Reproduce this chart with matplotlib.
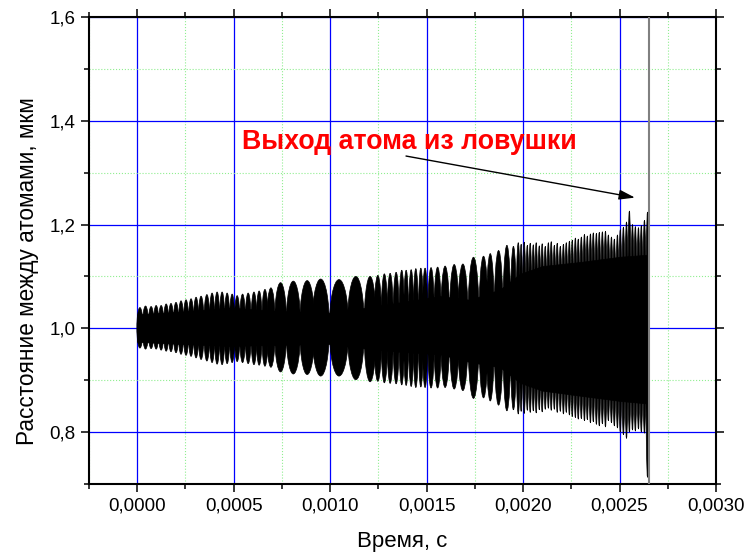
import numpy as np
import matplotlib
matplotlib.use('Agg')
import matplotlib.pyplot as plt
from matplotlib.patches import Ellipse
from matplotlib.collections import PatchCollection
from matplotlib.ticker import MultipleLocator, FuncFormatter

plt.rcParams['font.family'] = ['Liberation Sans', 'DejaVu Sans']

# ------------------------------------------------------------
# Data (time in microseconds, distance in um)
# each "lobe" is one beat lobe / spike of the dense oscillation
# ------------------------------------------------------------
lobe_t_us = [14, 43, 72, 98, 124, 150, 175, 201, 227, 253,
             279, 305, 331, 361, 388, 414, 440, 466, 492, 518,
             546, 575, 605, 632, 662, 693, 743, 809, 881, 951,
             1046, 1133, 1207, 1247, 1281, 1311, 1342, 1371, 1394, 1420,
             1444, 1470, 1492, 1523, 1557, 1596, 1643, 1688, 1743, 1795,
             1830, 1873, 1916, 1950, 1975,
             1990, 2006, 2022, 2037, 2053, 2068, 2084, 2099, 2115, 2131,
             2146, 2162, 2177, 2193, 2209, 2224, 2240, 2255, 2271, 2286,
             2302, 2318, 2333, 2349, 2364, 2380, 2395, 2411, 2427, 2442,
             2458, 2473, 2489, 2504, 2520, 2536, 2551, 2567, 2582, 2598,
             2613, 2629, 2645]

lobe_hi = [1.040, 1.043, 1.042, 1.044, 1.044, 1.047, 1.048, 1.050, 1.053, 1.055,
           1.057, 1.060, 1.062, 1.065, 1.068, 1.070, 1.070, 1.068, 1.066, 1.063,
           1.066, 1.068, 1.070, 1.072, 1.075, 1.078, 1.088, 1.091, 1.092, 1.095,
           1.094, 1.100, 1.100, 1.102, 1.105, 1.106, 1.108, 1.112, 1.112, 1.113,
           1.115, 1.116, 1.116, 1.117, 1.118, 1.120, 1.123, 1.124, 1.137, 1.139,
           1.144, 1.150, 1.160, 1.158, 1.165,
           1.162, 1.166, 1.160, 1.164, 1.161, 1.165, 1.159, 1.163, 1.158, 1.165,
           1.167, 1.160, 1.164, 1.158, 1.162, 1.165, 1.168, 1.170, 1.174, 1.172,
           1.176, 1.181, 1.178, 1.182, 1.184, 1.183, 1.185, 1.186, 1.187, 1.180,
           1.176, 1.172, 1.180, 1.190, 1.195, 1.205, 1.226, 1.200, 1.196, 1.194,
           1.198, 1.208, 1.224]

lobe_lo = [0.962, 0.960, 0.961, 0.960, 0.958, 0.956, 0.955, 0.953, 0.950, 0.948,
           0.946, 0.943, 0.940, 0.937, 0.934, 0.931, 0.930, 0.932, 0.934, 0.936,
           0.934, 0.932, 0.930, 0.929, 0.927, 0.925, 0.916, 0.912, 0.911, 0.908,
           0.908, 0.901, 0.897, 0.898, 0.895, 0.894, 0.893, 0.891, 0.890, 0.888,
           0.886, 0.887, 0.886, 0.885, 0.885, 0.886, 0.883, 0.880, 0.865, 0.866,
           0.860, 0.852, 0.841, 0.843, 0.835,
           0.840, 0.836, 0.842, 0.838, 0.841, 0.837, 0.843, 0.839, 0.844, 0.846,
           0.842, 0.844, 0.838, 0.840, 0.835, 0.838, 0.833, 0.830, 0.828, 0.825,
           0.826, 0.822, 0.824, 0.818, 0.820, 0.815, 0.812, 0.816, 0.810, 0.822,
           0.818, 0.812, 0.808, 0.800, 0.795, 0.788, 0.800, 0.804, 0.802, 0.806,
           0.800, 0.798, 0.713]

# solid core between the lobes (depth of the notches)
band_t_us = [0, 220, 480, 690, 1000, 1155, 1360, 1570, 1725, 1880, 1985, 2100, 2300, 2505, 2651]
band_hi = [1.027, 1.032, 1.040, 1.034, 1.030, 1.038, 1.050, 1.062, 1.055, 1.075, 1.105, 1.120, 1.128, 1.138, 1.142]
band_lo = [0.974, 0.970, 0.966, 0.968, 0.970, 0.962, 0.955, 0.950, 0.935, 0.925, 0.895, 0.880, 0.870, 0.860, 0.855]

t_exit_us = 2655   # grey vertical line: atom leaves the trap

# ------------------------------------------------------------
# Figure
# ------------------------------------------------------------
fig = plt.figure(figsize=(7.48, 5.6), dpi=100)
ax = fig.add_axes([89 / 748, 1 - 484 / 560, 627 / 748, 467 / 560])

t = np.array(lobe_t_us) * 1e-6
hi = np.array(lobe_hi)
lo = np.array(lobe_lo)
w = np.gradient(t) * 1.1

ellipses = [Ellipse((t[i], (hi[i] + lo[i]) / 2), w[i], hi[i] - lo[i]) for i in range(len(t))]
ax.add_collection(PatchCollection(ellipses, facecolor='black', edgecolor='black', linewidth=0.5))

ax.fill_between(np.array(band_t_us) * 1e-6, band_lo, band_hi, color='black', linewidth=0.5)

ax.axvline(t_exit_us * 1e-6, color='#808080', linewidth=1.5, zorder=3)

ax.annotate('', xy=(0.002594, 1.251), xytext=(0.001379, 1.333),
            arrowprops=dict(arrowstyle='-|>,head_length=0.8,head_width=0.25',
                            color='black', lw=1.0, mutation_scale=12))
ax.text(0.000541, 1.346, 'Выход атома из ловушки', color='#ff0000',
        fontsize=19.3, fontweight='bold', va='baseline', ha='left')

# axes, ticks and grid
ax.set_xlim(-0.00025, 0.003)
ax.set_ylim(0.7, 1.6)
ax.xaxis.set_major_locator(MultipleLocator(0.0005))
ax.xaxis.set_minor_locator(MultipleLocator(0.00025))
ax.yaxis.set_major_locator(MultipleLocator(0.2))
ax.yaxis.set_minor_locator(MultipleLocator(0.1))
ax.xaxis.set_major_formatter(FuncFormatter(lambda v, p: f'{v:.4f}'.replace('.', ',')))
ax.yaxis.set_major_formatter(FuncFormatter(lambda v, p: f'{v:.1f}'.replace('.', ',')))

ax.set_axisbelow(True)
ax.grid(which='major', color='#0000ff', linewidth=0.9)
ax.grid(which='minor', color='#90ee90', linestyle=':', linewidth=0.8)

ax.tick_params(which='both', direction='out', top=True, right=True, width=1.1,
               labelsize=13.5, colors='black')
ax.tick_params(which='major', length=6)
ax.tick_params(which='minor', length=3.5)
for s in ax.spines.values():
    s.set_linewidth(1.5)

ax.set_xlabel('Время, с', fontsize=16, labelpad=12)
ax.set_ylabel('Расстояние между атомами, мкм', fontsize=16.3)
ax.yaxis.set_label_coords(-0.08, 0.455)

plt.savefig('out.png', dpi=100)
